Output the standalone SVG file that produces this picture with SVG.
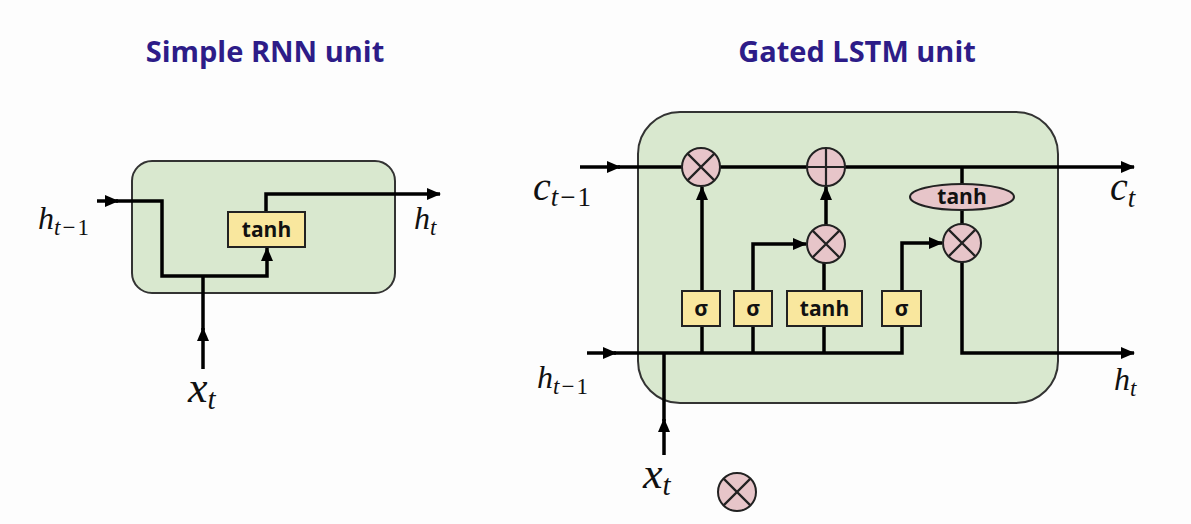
<svg xmlns="http://www.w3.org/2000/svg" width="1191" height="524" viewBox="0 0 1191 524">
<defs>
<marker id="arr" markerUnits="userSpaceOnUse" markerWidth="14" markerHeight="12" refX="13" refY="6" orient="auto">
<path d="M0,0 L14,6 L0,12 z" fill="#000"/>
</marker>
<symbol id="mul" overflow="visible">
<circle cx="0" cy="0" r="19" class="op"/>
<path d="M-13.4,-13.4 L13.4,13.4 M-13.4,13.4 L13.4,-13.4" stroke="#222" stroke-width="2.2"/>
</symbol>
</defs>
<style>
.title{font-family:"Open Sans","Liberation Sans",sans-serif;font-weight:bold;font-size:29px;fill:#2d1c88}
.unit{fill:#d9e8cf;stroke:#333;stroke-width:2}
.gate{fill:#f9e79e;stroke:#222;stroke-width:2}
.op{fill:#e7c5c9;stroke:#222;stroke-width:2}
.gt{font-family:"Open Sans","Liberation Sans",sans-serif;font-weight:bold;font-size:21px;fill:#111;text-anchor:middle}
.ln{fill:none;stroke:#000;stroke-width:3.5}
.m{font-family:'Liberation Serif',serif;font-style:italic;fill:#111}
.n{font-style:normal}
</style>
<rect width="1191" height="524" fill="#fdfdfd"/>
<text class="title" x="265" y="62" text-anchor="middle">Simple RNN unit</text>
<text class="title" x="857" y="62" text-anchor="middle">Gated LSTM unit</text>

<g id="rnn-unit"><rect class="unit" x="132" y="161" width="263" height="132" rx="20"/></g>
<g id="lstm-unit"><rect class="unit" x="638" y="112" width="420" height="291" rx="42"/></g>

<g id="connectors">
<line class="ln" x1="97" y1="201" x2="118" y2="201" marker-end="url(#arr)"/>
<path class="ln" d="M116,201 H162 V276 H267 V248" marker-end="url(#arr)"/>
<line class="ln" x1="203" y1="369" x2="203" y2="328" marker-end="url(#arr)"/>
<line class="ln" x1="203" y1="330" x2="203" y2="276"/>
<path class="ln" d="M266,212 V194 H440" marker-end="url(#arr)"/>

<line class="ln" x1="580" y1="167" x2="620" y2="167" marker-end="url(#arr)"/>
<line class="ln" x1="618" y1="167" x2="1134" y2="167" marker-end="url(#arr)"/>
<line class="ln" x1="587" y1="353" x2="616" y2="353" marker-end="url(#arr)"/>
<path class="ln" d="M614,353 H902 V243 H942" marker-end="url(#arr)"/>
<line class="ln" x1="702" y1="353" x2="702" y2="187" marker-end="url(#arr)"/>
<path class="ln" d="M753,353 V244 H806" marker-end="url(#arr)"/>
<line class="ln" x1="824" y1="353" x2="824" y2="263"/>
<line class="ln" x1="826" y1="226" x2="826" y2="187" marker-end="url(#arr)"/>
<line class="ln" x1="962" y1="167" x2="962" y2="225"/>
<path class="ln" d="M962,262 V353 H1134" marker-end="url(#arr)"/>
<line class="ln" x1="664" y1="455" x2="664" y2="419" marker-end="url(#arr)"/>
<line class="ln" x1="664" y1="421" x2="664" y2="353"/>
</g>

<g id="rnn-tanh"><rect class="gate" x="228" y="212" width="77" height="35"/><text class="gt" x="266.5" y="237">tanh</text></g>

<g id="forget-mul"><use href="#mul" x="701" y="167"/></g>
<g id="add"><circle class="op" cx="826" cy="167" r="19"/><path d="M826,148 V186 M807,167 H845" stroke="#222" stroke-width="2.2"/></g>
<g id="input-mul"><use href="#mul" x="826" y="244"/></g>
<g id="output-mul"><use href="#mul" x="962" y="243"/></g>
<g id="cell-tanh"><ellipse class="op" cx="962" cy="197" rx="52" ry="13"/><text class="gt" x="962" y="204">tanh</text></g>
<g id="sigma-f"><rect class="gate" x="682" y="291" width="38" height="35"/><text class="gt" x="701" y="315.5">σ</text></g>
<g id="sigma-i"><rect class="gate" x="734" y="291" width="38" height="35"/><text class="gt" x="753" y="315.5">σ</text></g>
<g id="tanh-g"><rect class="gate" x="787" y="291" width="75" height="35"/><text class="gt" x="824.5" y="315.5">tanh</text></g>
<g id="sigma-o"><rect class="gate" x="882" y="291" width="39" height="35"/><text class="gt" x="901.5" y="315.5">σ</text></g>
<g id="legend-mul"><use href="#mul" x="737" y="492"/></g>

<g id="labels">
<text class="m" x="38" y="229" font-size="32">h<tspan font-size="23" dy="6">t</tspan><tspan class="n" font-size="23" dx="2">−</tspan><tspan class="n" font-size="23" dx="2">1</tspan></text>
<text class="m" x="414" y="229" font-size="32">h<tspan font-size="23" dy="6">t</tspan></text>
<text class="m" x="188" y="402" font-size="44">x<tspan font-size="29" dy="7">t</tspan></text>
<text class="m" x="533" y="200" font-size="40">c<tspan font-size="27" dy="6">t</tspan><tspan class="n" font-size="27" dx="2">−</tspan><tspan class="n" font-size="27" dx="2">1</tspan></text>
<text class="m" x="1110" y="200" font-size="40">c<tspan font-size="27" dy="7">t</tspan></text>
<text class="m" x="537" y="388" font-size="32">h<tspan font-size="23" dy="6">t</tspan><tspan class="n" font-size="23" dx="2">−</tspan><tspan class="n" font-size="23" dx="2">1</tspan></text>
<text class="m" x="1114" y="390" font-size="32">h<tspan font-size="23" dy="6">t</tspan></text>
<text class="m" x="643" y="488" font-size="44">x<tspan font-size="29" dy="7">t</tspan></text>
</g>
</svg>
